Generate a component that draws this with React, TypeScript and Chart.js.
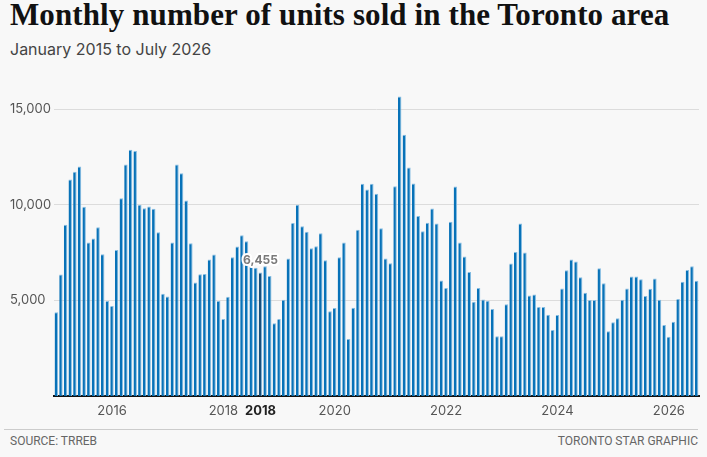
import { useEffect, useRef } from "react";
import { Chart, registerables } from "chart.js";

Chart.register(...registerables);

// monthly units sold
const units2015 = [4375, 6354, 8958, 11318, 11719, 11995, 9896, 8021, 8229, 8818, 7411, 4964];
const units2016 = [4703, 7635, 10344, 12099, 12880, 12812, 10000, 9823, 9911, 9792, 8557, 5350];
const units2017 = [5208, 8021, 12099, 11646, 10224, 7984, 5938, 6370, 6380, 7135, 7396, 4964];
const units2018 = [4026, 5188, 7255, 7813, 8401, 8089, 6800, 6700, 6455, 6780, 6280, 3802];
const units2019 = [4026, 5031, 7188, 9042, 10000, 8870, 8594, 7724, 7828, 8505, 7099, 4427];
const units2020 = [4599, 7255, 8021, 2984, 4615, 8698, 11094, 10797, 11094, 10573, 8766, 7188];
const units2021 = [6943, 10969, 15656, 13661, 11943, 11109, 9406, 8609, 9063, 9807, 9026, 6042];
const units2022 = [5641, 9115, 10953, 8021, 7292, 6490, 4929, 5641, 5052, 4981, 4547, 3125];
const units2023 = [3125, 4792, 6927, 7531, 9026, 7500, 5260, 5313, 4651, 4651, 4250, 3453];
const units2024 = [4234, 5625, 6578, 7135, 7031, 6214, 5396, 5016, 5016, 6682, 5901, 3385];
const units2025 = [3854, 4063, 5031, 5625, 6250, 6250, 6109, 5224, 5604, 6146, 5031, 3714];
const units2026 = [3104, 3885, 5068, 5969, 6594, 6786, 6021];

const yearlyUnits = [
  units2015, units2016, units2017, units2018, units2019, units2020,
  units2021, units2022, units2023, units2024, units2025, units2026,
];
const firstYear = 2015;
const tickYears = ["2016", "2018", "2020", "2022", "2024", "2026"];
const yTicks = [5000, 10000, 15000];
const highlightIndex = 44; // Sep 2018, shown as hovered

const units = yearlyUnits.flat();
const categories: string[] = [];
yearlyUnits.forEach((months, y) => {
  months.forEach((_, m) => {
    categories.push(`${firstYear + y}-${String(m + 1).padStart(2, "0")}`);
  });
});

const BLUE = "#0872b8";
const DARK = "#154f7c";

const highlightLabel = {
  id: "highlightLabel",
  afterDatasetsDraw(chart: any) {
    const bar = chart.getDatasetMeta(0).data[highlightIndex];
    if (!bar) return;
    const ctx = chart.ctx;
    const text = units[highlightIndex].toLocaleString("en-US");
    ctx.save();
    ctx.font = "bold 12px Inter";
    ctx.textAlign = "center";
    ctx.textBaseline = "middle";
    ctx.lineJoin = "round";
    ctx.lineWidth = 4;
    ctx.strokeStyle = "#ffffff";
    ctx.strokeText(text, bar.x, bar.y - 12);
    ctx.fillStyle = "#7a7a7a";
    ctx.fillText(text, bar.x, bar.y - 12);
    ctx.restore();
  },
};

function UnitsChart() {
  const chartRef = useRef<HTMLCanvasElement>(null);
  const chartInstance = useRef<Chart | null>(null);

  useEffect(() => {
    if (!chartRef.current) return;
    const ctx = chartRef.current.getContext("2d");
    if (!ctx) return;
    if (chartInstance.current) chartInstance.current.destroy();

    chartInstance.current = new Chart(ctx, {
      type: "bar",
      data: {
        labels: categories,
        datasets: [
          {
            data: units,
            backgroundColor: units.map((_, i) => (i === highlightIndex ? DARK : BLUE)),
            borderColor: "#86bde2",
            borderWidth: { top: 1, right: 1, left: 0, bottom: 0 },
            borderSkipped: false,
            barPercentage: 0.74,
            categoryPercentage: 1,
          },
        ],
      },
      options: {
        responsive: true,
        maintainAspectRatio: false,
        animation: false,
        events: [],
        layout: { padding: { left: 10, right: 8, top: 10, bottom: 0 } },
        plugins: {
          legend: { display: false },
          tooltip: { enabled: false },
        },
        scales: {
          x: {
            grid: { drawOnChartArea: false, drawTicks: false },
            border: { display: true, color: "#111111", width: 2 },
            ticks: {
              autoSkip: false,
              maxRotation: 0,
              minRotation: 0,
              padding: 7,
              color: (c: any) => (c.index === highlightIndex ? "#222222" : "#555555"),
              font: (c: any) => ({
                family: "Inter",
                size: 13,
                weight: c.index === highlightIndex ? "bold" : "normal",
              }),
              callback: (_v: any, index: number) => {
                const year = categories[index].slice(0, 4);
                if (index === highlightIndex) return year;
                if (categories[index].endsWith("-01") && tickYears.includes(year)) return year;
                return "";
              },
            },
            afterFit: (s: any) => {
              s.height = 24;
            },
          },
          y: {
            min: 0,
            max: 16000,
            border: { display: false },
            grid: { color: "#dcdcdc", drawTicks: false },
            ticks: {
              crossAlign: "far",
              padding: 0,
              color: "#555555",
              font: { family: "Inter", size: 13 },
              callback: (v: any) => Number(v).toLocaleString("en-US"),
            },
            afterBuildTicks: (s: any) => {
              s.ticks = yTicks.map((value) => ({ value }));
            },
            afterFit: (s: any) => {
              s.width = 44;
            },
          },
        },
      },
      plugins: [highlightLabel],
    });

    return () => {
      if (chartInstance.current) {
        chartInstance.current.destroy();
        chartInstance.current = null;
      }
    };
  }, []);

  return <canvas ref={chartRef}></canvas>;
}

export default function App() {
  return (
    <div
      style={{
        position: "absolute",
        left: 0,
        top: 0,
        width: 707,
        height: 457,
        background: "#f8f8f8",
        overflow: "hidden",
      }}
    >
      <div
        style={{
          position: "absolute",
          left: 10,
          top: 0,
          fontFamily: "'Liberation Serif', serif",
          fontWeight: "bold",
          fontSize: 31,
          lineHeight: "30px",
          letterSpacing: "0.1px",
          color: "#111",
          whiteSpace: "nowrap",
        }}
      >
        Monthly number of units sold in the Toronto area
      </div>
      <div
        style={{
          position: "absolute",
          left: 10,
          top: 41,
          fontFamily: "Inter, sans-serif",
          fontSize: 16,
          lineHeight: "16px",
          color: "#444",
          whiteSpace: "nowrap",
        }}
      >
        January 2015 to July 2026
      </div>
      <div style={{ position: "absolute", left: 0, top: 80, width: 707, height: 340 }}>
        <UnitsChart />
      </div>
      <div
        style={{
          position: "absolute",
          left: 4,
          width: 694,
          top: 429,
          borderTop: "1px solid #cccccc",
        }}
      />
      <div
        style={{
          position: "absolute",
          left: 10,
          right: 9,
          top: 434,
          display: "flex",
          justifyContent: "space-between",
          fontFamily: "Roboto, sans-serif",
          fontSize: 12,
          lineHeight: "14px",
          color: "#666",
        }}
      >
        <span>SOURCE: TRREB</span>
        <span>TORONTO STAR GRAPHIC</span>
      </div>
    </div>
  );
}
